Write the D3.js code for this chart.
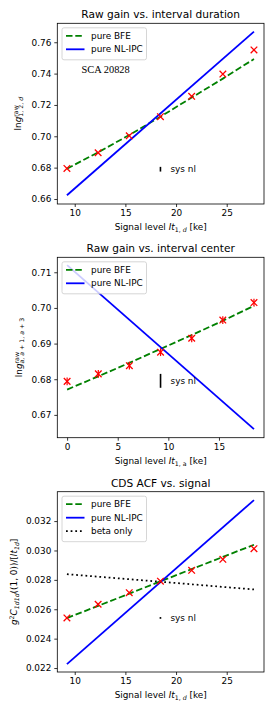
<!DOCTYPE html>
<html>
<head>
<meta charset="utf-8">
<script src="https://cdn.jsdelivr.net/npm/d3@7"></script>
<style>
  body { margin: 0; background: #fff; }
  svg { display: block; font-family: "DejaVu Sans", sans-serif; }
</style>
</head>
<body>
<div id="chart"></div>
<script>
// signal levels (ke)
var signalD = [9.23, 12.31, 15.38, 18.46, 21.54, 24.62, 27.69],
    signalA = [0, 3.08, 6.15, 9.23, 12.31, 15.38, 18.46];

// panel 1: raw gain vs interval duration
var gainDur = [0.6795, 0.6895, 0.7003, 0.7125, 0.7255, 0.7397, 0.7551],
    bfeDur = [0.6793, 0.6898, 0.7008, 0.7125, 0.7247, 0.7368, 0.7493],
    nlDurX = [9.23, 27.69],
    nlDur = [0.6624, 0.7668],
    sysDur = {x: 18.46, lo: 0.6775, hi: 0.6805};

// panel 2: raw gain vs interval center
var gainCen = [0.6794, 0.6815, 0.6838, 0.6876, 0.6915, 0.6966, 0.7015],
    gainCenErr = [0.0011, 0.0011, 0.0011, 0.0011, 0.0011, 0.0011, 0.0011],
    bfeCen = [0.6771, 0.6808, 0.6846, 0.6885, 0.6924, 0.6964, 0.7006],
    nlCenX = [0, 18.46],
    nlCen = [0.7120, 0.6660],
    sysCen = {x: 9.23, lo: 0.6776, hi: 0.6815};

// panel 3: CDS ACF vs signal
var acf = [0.02541, 0.02634, 0.02713, 0.02791, 0.02865, 0.02940, 0.03012],
    bfeAcf = [0.02540, 0.02623, 0.02706, 0.02790, 0.02873, 0.02956, 0.03039],
    nlAcfX = [9.23, 27.69],
    nlAcf = [0.02227, 0.03343],
    betaAcfX = [9.23, 27.69],
    betaAcf = [0.02839, 0.02735],
    sysAcf = {x: 18.46, lo: 0.02539, hi: 0.02543};

var ticksX1 = [10, 15, 20, 25],
    ticksX2 = [0, 5, 10, 15],
    ticksY1 = [0.66, 0.68, 0.70, 0.72, 0.74, 0.76],
    ticksY2 = [0.67, 0.68, 0.69, 0.70, 0.71],
    ticksY3 = [0.022, 0.024, 0.026, 0.028, 0.030, 0.032];

var FS = 8.9, TITLE_FS = 10.6, SMALL = 0.7;

var svg = d3.select("#chart").append("svg")
  .attr("width", 277)
  .attr("height", 712);

// writes a text made of pieces: {t, it, sub, sup, back}
function richText(g, pieces, fs) {
  var text = g.append("text").style("font-size", fs + "px"),
      shift = 0, lastW = 0;
  pieces.forEach(function (p) {
    var size = (p.sub || p.sup) ? fs * SMALL : fs,
        target = p.sub ? fs * 0.22 : (p.sup ? -fs * 0.38 : 0),
        ts = text.append("tspan")
          .style("font-size", size + "px")
          .attr("dy", target - shift)
          .text(p.t);
    if (p.it) ts.style("font-style", "italic");
    if (p.back) ts.attr("dx", -lastW);
    shift = target;
    lastW = ts.node().getComputedTextLength();
  });
  return text;
}

function signalLabel(sub) {
  return [{t: "Signal level "}, {t: "It", it: true},
          {t: "1, ", sub: true}, {t: sub, sub: true, it: sub !== "a"}, {t: " [ke]"}];
}

function drawPanel(cfg) {
  var left = 57.3, right = 264,
      x = d3.scaleLinear().domain(cfg.xDomain).range([left, right]),
      y = d3.scaleLinear().domain(cfg.yDomain).range([cfg.bottom, cfg.top]),
      g = svg.append("g"),
      line = d3.line().x(function (d) { return x(d[0]); }).y(function (d) { return y(d[1]); });

  // frame
  g.append("rect")
    .attr("x", left).attr("y", cfg.top)
    .attr("width", right - left).attr("height", cfg.bottom - cfg.top)
    .attr("fill", "none").attr("stroke", "#000").attr("stroke-width", 0.8);

  // axes
  var ax = g.append("g")
    .attr("transform", "translate(0," + cfg.bottom + ")")
    .call(d3.axisBottom(x).tickValues(cfg.xTicks).tickSize(3).tickPadding(3).tickFormat(d3.format("d")));
  var ay = g.append("g")
    .attr("transform", "translate(" + left + ",0)")
    .call(d3.axisLeft(y).tickValues(cfg.yTicks).tickSize(3).tickPadding(3).tickFormat(d3.format(cfg.yFmt)));
  [ax, ay].forEach(function (a) {
    a.select(".domain").remove();
    a.selectAll("line").attr("stroke-width", 0.8);
    a.selectAll("text").style("font-size", FS + "px").attr("fill", "#000")
      .style("font-family", "DejaVu Sans");
  });

  // title
  g.append("text")
    .attr("x", (left + right) / 2).attr("y", cfg.top - 5)
    .attr("text-anchor", "middle")
    .style("font-size", TITLE_FS + "px")
    .text(cfg.title);

  // x label
  var xl = richText(g, signalLabel(cfg.xSub), FS);
  var xw = xl.node().getBBox().width;
  xl.attr("x", (left + right) / 2 - xw / 2).attr("y", cfg.bottom + 26);

  // y label
  var yg = g.append("g")
    .attr("transform", "translate(" + cfg.yLabelX + "," + ((cfg.top + cfg.bottom) / 2) + ") rotate(-90)");
  var yl = richText(yg, cfg.yLabel, FS);
  var yw = yl.node().getBBox().width;
  yl.attr("x", -yw / 2);

  // model lines
  cfg.lines.forEach(function (L) {
    g.append("path")
      .datum(d3.zip(L.x, L.y))
      .attr("d", line)
      .attr("fill", "none")
      .attr("stroke", L.color)
      .attr("stroke-width", L.width)
      .attr("stroke-dasharray", L.dash || null);
  });

  // sys nl bar
  g.append("line")
    .attr("x1", x(cfg.sys.x)).attr("x2", x(cfg.sys.x))
    .attr("y1", y(cfg.sys.lo)).attr("y2", y(cfg.sys.hi))
    .attr("stroke", "#000").attr("stroke-width", 1.6);
  if (y(cfg.sys.lo) - y(cfg.sys.hi) < 2) {
    g.append("circle").attr("cx", x(cfg.sys.x)).attr("cy", y((cfg.sys.lo + cfg.sys.hi) / 2))
      .attr("r", 0.9).attr("fill", "#000");
  }
  g.append("text")
    .attr("x", x(cfg.sys.x) + 10).attr("y", y((cfg.sys.lo + cfg.sys.hi) / 2) + 3)
    .style("font-size", FS + "px")
    .text("sys nl");

  // data points
  var pts = d3.zip(cfg.px, cfg.py);
  if (cfg.err) {
    g.selectAll(".err").data(pts).enter().append("line")
      .attr("x1", function (d) { return x(d[0]); })
      .attr("x2", function (d) { return x(d[0]); })
      .attr("y1", function (d, i) { return y(d[1] - cfg.err[i]); })
      .attr("y2", function (d, i) { return y(d[1] + cfg.err[i]); })
      .attr("stroke", "red").attr("stroke-width", 1.2);
  }
  var m = 3.3;
  g.selectAll(".pt").data(pts).enter().append("path")
    .attr("d", function (d) {
      var cx = x(d[0]), cy = y(d[1]);
      return "M" + (cx - m) + "," + (cy - m) + "L" + (cx + m) + "," + (cy + m) +
             "M" + (cx - m) + "," + (cy + m) + "L" + (cx + m) + "," + (cy - m);
    })
    .attr("stroke", "red").attr("stroke-width", 1.3).attr("fill", "none");

  // text note
  if (cfg.note) {
    g.append("text")
      .attr("x", 81.5).attr("y", cfg.top + 50)
      .style("font-family", "Liberation Serif, serif")
      .style("font-size", "10.4px")
      .text(cfg.note);
  }

  // legend
  var lg = g.append("g"), rowH = 13.5, ly = cfg.top + 4.5;
  lg.append("rect")
    .attr("x", 62).attr("y", ly)
    .attr("width", 84.5).attr("height", cfg.lines.length * rowH + 5)
    .attr("rx", 2)
    .attr("fill", "#fff").attr("fill-opacity", 0.8)
    .attr("stroke", "#ccc").attr("stroke-width", 0.8);
  cfg.lines.forEach(function (L, i) {
    var yy = ly + 8 + i * rowH;
    lg.append("line")
      .attr("x1", 66).attr("x2", 84.5).attr("y1", yy).attr("y2", yy)
      .attr("stroke", L.color).attr("stroke-width", L.width)
      .attr("stroke-dasharray", L.dash || null);
    lg.append("text")
      .attr("x", 91).attr("y", yy + 3.1)
      .style("font-size", FS + "px")
      .text(L.name);
  });
}

var bfeStyle = {color: "green", width: 1.8, dash: "6.5,2.8", name: "pure BFE"},
    nlStyle = {color: "blue", width: 1.8, name: "pure NL-IPC"};

drawPanel({
  title: "Raw gain vs. interval duration",
  top: 23.3, bottom: 204,
  xDomain: [8.28, 28.68], yDomain: [0.6568, 0.7721],
  xTicks: ticksX1, yTicks: ticksY1, yFmt: ".2f", xSub: "d",
  yLabelX: 21,
  yLabel: [{t: "ln"}, {t: "g", it: true}, {t: "raw", sup: true}, {t: "1, 2, ", sub: true, back: true},
           {t: "d", sub: true, it: true}],
  lines: [Object.assign({x: signalD, y: bfeDur}, bfeStyle),
          Object.assign({x: nlDurX, y: nlDur}, nlStyle)],
  px: signalD, py: gainDur,
  sys: sysDur,
  note: "SCA 20828"
});

drawPanel({
  title: "Raw gain vs. interval center",
  top: 257.3, bottom: 437.7,
  xDomain: [-0.97, 19.45], yDomain: [0.6636, 0.7142],
  xTicks: ticksX2, yTicks: ticksY2, yFmt: ".2f", xSub: "a",
  yLabelX: 22,
  yLabel: [{t: "ln"}, {t: "g", it: true}, {t: "raw", sup: true}, {t: "a", sub: true, it: true, back: true},
           {t: ", ", sub: true}, {t: "a", sub: true, it: true}, {t: " + 1, ", sub: true},
           {t: "a", sub: true, it: true}, {t: " + 3", sub: true}],
  lines: [Object.assign({x: signalA, y: bfeCen}, bfeStyle),
          Object.assign({x: nlCenX, y: nlCen}, nlStyle)],
  px: signalA, py: gainCen, err: gainCenErr,
  sys: sysCen
});

drawPanel({
  title: "CDS ACF vs. signal",
  top: 491.7, bottom: 672,
  xDomain: [8.28, 28.68], yDomain: [0.02173, 0.0340],
  xTicks: ticksX1, yTicks: ticksY3, yFmt: ".3f", xSub: "d",
  yLabelX: 17,
  yLabel: [{t: "g", it: true}, {t: "2", sup: true}, {t: "C", it: true}, {t: "1d1d", sub: true, it: true},
           {t: "((1, 0))/[", it: false}, {t: "It", it: true}, {t: "1d", sub: true, it: true}, {t: "]"}],
  lines: [Object.assign({x: signalD, y: bfeAcf}, bfeStyle),
          Object.assign({x: nlAcfX, y: nlAcf}, nlStyle),
          {x: betaAcfX, y: betaAcf, color: "#000", width: 1.75, dash: "1.75,2.9", name: "beta only"}],
  px: signalD, py: acf,
  sys: sysAcf
});
</script>
</body>
</html>
